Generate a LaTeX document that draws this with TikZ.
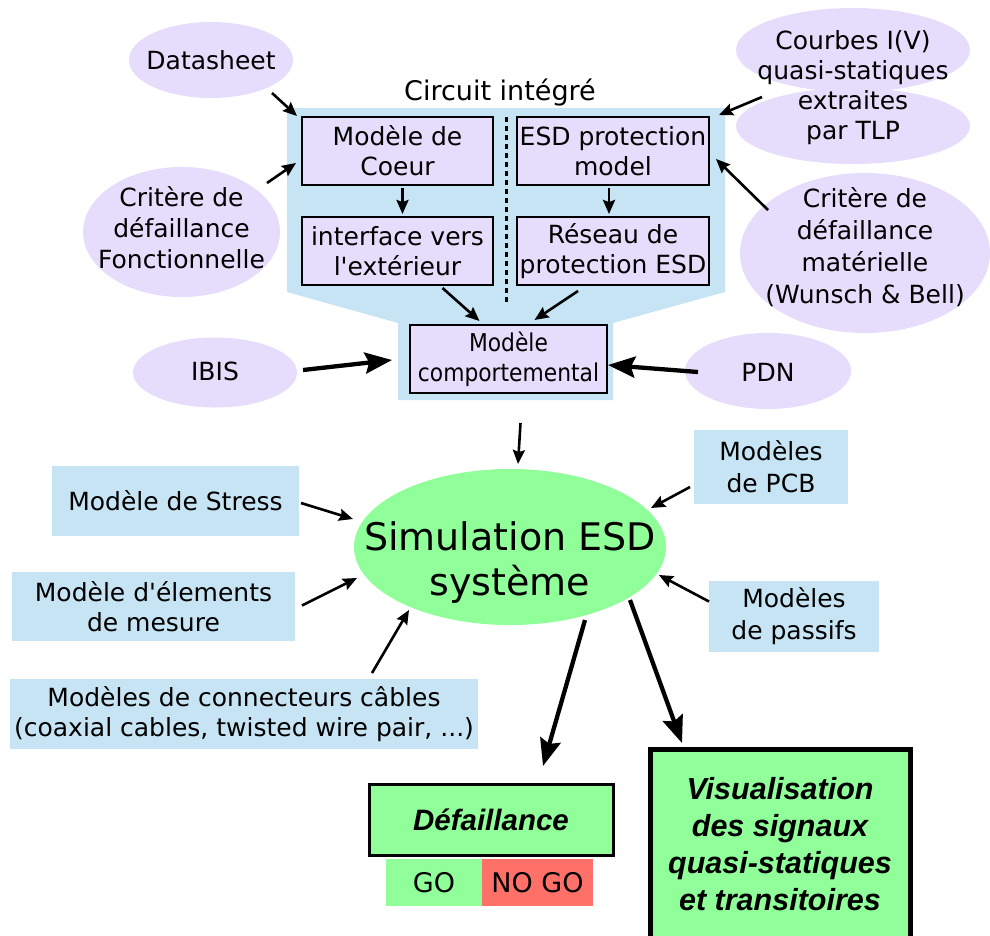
\documentclass[tikz,border=0pt]{standalone}
\usepackage{fontspec}
\setmainfont{DejaVu Sans}
\newfontfamily\condfont{DejaVu Sans}[FakeStretch=0.89]
\newfontfamily\arialfont{Liberation Sans}
\usetikzlibrary{shapes.geometric,arrows.meta}
\newcommand{\myfs}[2]{\fontsize{#1}{#2}\selectfont}
\definecolor{lav}{RGB}{229,221,251}
\definecolor{lblue}{RGB}{198,228,244}
\definecolor{simgreen}{RGB}{144,255,154}
\definecolor{nogored}{RGB}{255,112,104}
\tikzset{
  etext/.style={inner sep=0pt, outer sep=0pt, align=center, font=\myfs{25}{31}},
  mbox/.style={rectangle, draw=black, line width=2pt, fill=lav, inner sep=0pt, outer sep=0pt, align=center, font=\myfs{25}{30}},
  bbox/.style={rectangle, fill=lblue, inner sep=0pt, outer sep=0pt, align=center, font=\myfs{25}{31}},
  arr/.style={-{Stealth[length=14pt,width=12pt,inset=2pt]}, line width=2.6pt},
  bigarr/.style={-{Stealth[length=27pt,width=21pt,inset=4pt]}, line width=4.3pt},
}
\begin{document}
\begin{tikzpicture}[x=1pt,y=-1pt]
\useasboundingbox (0,0) rectangle (990,935);
% integrated circuit background
\fill[lblue] (287,108) -- (725,108) -- (725,292) -- (613,323) -- (613,400) -- (398,400) -- (398,323) -- (287,292) -- cycle;
\node[font=\myfs{27}{30}] (ci) at (500,93) {Circuit intégré};
\draw[line width=3pt, dash pattern=on 5pt off 4pt] (506,117) -- (506,305);

% ellipse shapes
\fill[lav] (211,60) ellipse [x radius=82, y radius=38];
\fill[lav] (181.5,232) ellipse [x radius=98.5, y radius=65];
\fill[lav] (853,50) ellipse [x radius=117, y radius=42];
\fill[lav] (853,126) ellipse [x radius=117, y radius=38];
\fill[lav] (865,253) ellipse [x radius=125, y radius=80];
\fill[lav] (215,372.5) ellipse [x radius=82, y radius=35];
\fill[lav] (768,371) ellipse [x radius=83, y radius=38];
\fill[simgreen] (510,547) ellipse [x radius=156, y radius=78];

% ellipse texts
\node[etext] (ds) at (211,60) {Datasheet};
\node[etext] (critF) at (181.5,228) {Critère de\\défaillance\\Fonctionnelle};
\node[etext, font=\myfs{25}{30}] (courbes) at (853,88) {Courbes I(V)\\quasi-statiques\\extraites\\par TLP};
\node[etext, font=\myfs{25}{32}] (critM) at (865,247) {Critère de\\défaillance\\matérielle\\(Wunsch \& Bell)};
\node[etext] (ibis) at (215,371) {IBIS};
\node[etext] (pdn) at (768,372) {PDN};
\node[etext, font=\myfs{38}{45}] (sim) at (510,563) {Simulation ESD\\système};

% IC boxes
\node[mbox, minimum width=191, minimum height=68] (coeur) at (397.5,151) {Modèle de\\Coeur};
\node[mbox, minimum width=191, minimum height=68] (iface) at (397.5,251) {interface vers\\l\textquotesingle extérieur};
\node[mbox, minimum width=192, minimum height=68] (esd) at (613,151) {ESD protection\\model};
\node[mbox, minimum width=192, minimum height=68] (reseau) at (613,251) {Réseau de\\protection ESD};
\node[mbox, minimum width=197, minimum height=68, font=\condfont\myfs{24.5}{30}] (comp) at (508.5,359) {Modèle\\comportemental};

% blue boxes
\node[bbox, minimum width=247, minimum height=70] (stress) at (175.5,501) {Modèle de Stress};
\node[bbox, minimum width=283, minimum height=69, font=\myfs{25}{30}] (elem) at (153.5,606.5) {Modèle d\textquotesingle élements\\de mesure};
\node[bbox, minimum width=468, minimum height=70, font=\myfs{25}{30}] (conn) at (244,714) {Modèles de connecteurs câbles\\(coaxial cables, twisted wire pair, ...)};
\node[bbox, minimum width=154, minimum height=74, font=\myfs{25}{32}] (pcb) at (771,467) {Modèles\\de PCB};
\node[bbox, minimum width=170, minimum height=71, font=\myfs{25}{32}] (pass) at (794,616.5) {Modèles\\de passifs};

% outputs
\node[rectangle, draw=black, line width=3pt, fill=simgreen, inner sep=0pt, outer sep=0pt, minimum width=244, minimum height=71, font=\arialfont\bfseries\itshape\myfs{29.5}{34}] (def) at (491,819.5) {Défaillance};
\node[rectangle, fill=simgreen, inner sep=0pt, minimum width=96, minimum height=47, font=\myfs{27}{30}] (go) at (434,882.5) {GO};
\node[rectangle, fill=nogored, inner sep=0pt, minimum width=111, minimum height=47, font=\myfs{27}{30}] (nogo) at (537.5,882.5) {NO GO};
\node[rectangle, draw=black, line width=5pt, fill=simgreen, inner sep=0pt, outer sep=0pt, minimum width=260, minimum height=190, align=center, font=\arialfont\bfseries\itshape\myfs{30.5}{37}] (visu) at (780,844) {Visualisation\\des signaux\\quasi-statiques\\et transitoires};

% arrows
\draw[arr] ([shift={(61,33)}]ds.center) -- ([shift={(-5,-1)}]coeur.north west);
\draw[arr] ([shift={(85.5,-45)}]critF.center) -- ([shift={(-6,12)}]coeur.west);
\draw[arr] ([shift={(-91,9)}]courbes.center) -- ([shift={(10,-2)}]esd.north east);
\draw[arr] ([shift={(-97,-37)}]critM.center) -- ([shift={(7,8)}]esd.east);
\draw[arr] ([shift={(5,3)}]coeur.south) -- ([shift={(5,-3)}]iface.north);
\draw[arr] ([shift={(-4,3)}]esd.south) -- ([shift={(-4,-3)}]reseau.north);
\draw[arr] ([shift={(45,3)}]iface.south) -- ([shift={(-29,-4)}]comp.north);
\draw[arr] ([shift={(-35,6)}]reseau.south) -- ([shift={(26,-5)}]comp.north);
\draw[bigarr] ([shift={(88,-1)}]ibis.center) -- ([shift={(-18,1)}]comp.west);
\draw[bigarr] ([shift={(-70,0)}]pdn.center) -- ([shift={(1,6)}]comp.east);
\draw[arr] ([shift={(12,30)}]comp.south) -- ([shift={(8,-99)}]sim.center);
\draw[arr] ([shift={(2,2)}]stress.east) -- ([shift={(-157,-44)}]sim.center);
\draw[arr] ([shift={(7,-1)}]elem.east) -- ([shift={(-153,15)}]sim.center);
\draw[arr] ([shift={(128,-6)}]conn.north) -- ([shift={(-101,47)}]sim.center);
\draw[arr] ([shift={(-4,20)}]pcb.west) -- ([shift={(141,-55)}]sim.center);
\draw[arr] ([shift={(0,-15)}]pass.west) -- ([shift={(149,12)}]sim.center);
\draw[bigarr] ([shift={(75,57)}]sim.center) -- ([shift={(52,-18)}]def.north);
\draw[bigarr] ([shift={(120,37)}]sim.center) -- ([shift={(-98,-6)}]visu.north);
\end{tikzpicture}
\end{document}
